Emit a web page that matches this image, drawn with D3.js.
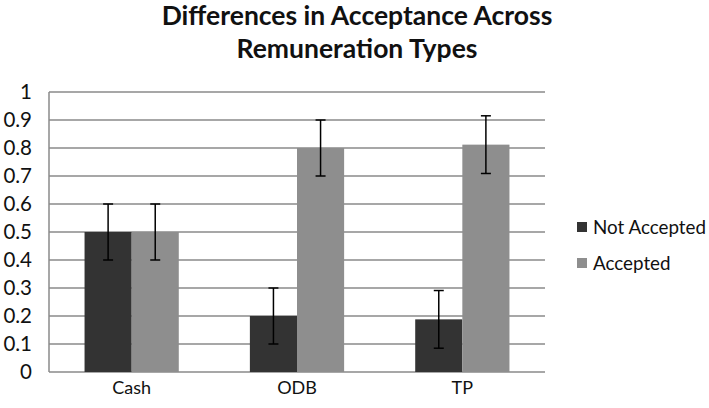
<!DOCTYPE html>
<html><head><meta charset="utf-8">
<script src="https://cdn.jsdelivr.net/npm/d3@7"></script>
<style>body{margin:0;background:#fff}svg{display:block;font-family:Lato,"Open Sans",sans-serif}</style>
</head><body>
<script>
const categories = ["Cash", "ODB", "TP"];
const seriesNames = ["Not Accepted", "Accepted"];
const notAccepted = [0.5, 0.2, 0.188];
const accepted = [0.5, 0.8, 0.812];
const notAcceptedErr = [0.1, 0.1, 0.103];
const acceptedErr = [0.1, 0.1, 0.103];
const yTicks = [0, 0.1, 0.2, 0.3, 0.4, 0.5, 0.6, 0.7, 0.8, 0.9, 1];
const titleLines = ["Differences in Acceptance Across", "Remuneration Types"];
const colors = ["#333333", "#8e8e8e"];

const W = 709, H = 408;
const m = {left: 49, right: 545, top: 92, bottom: 372};
const svg = d3.select("body").append("svg").attr("width", W).attr("height", H);

const y = d3.scaleLinear().domain([0, 1]).range([m.bottom, m.top]);
const x0 = d3.scaleBand().domain(categories).range([m.left, m.right]).paddingInner(0.43).paddingOuter(0.215);
const x1 = d3.scaleBand().domain(seriesNames).range([0, x0.bandwidth()]);

svg.append("g").selectAll("line").data(yTicks).join("line")
  .attr("x1", m.left).attr("x2", m.right)
  .attr("y1", d => y(d)).attr("y2", d => y(d))
  .attr("stroke", "#8a8a8a").attr("stroke-width", 1.5);
svg.append("line").attr("x1", m.left).attr("x2", m.left).attr("y1", m.top).attr("y2", m.bottom)
  .attr("stroke", "#8a8a8a").attr("stroke-width", 1.5);

const yAxis = d3.axisLeft(y).tickValues(yTicks).tickSize(0).tickPadding(0).tickFormat(d3.format("~g"));
const ya = svg.append("g").attr("transform", `translate(32,0)`).call(yAxis);
ya.select(".domain").remove();
ya.selectAll("text").attr("font-size", 20.5).attr("fill", "#111").style("font-family", "Lato, sans-serif");

const xAxis = d3.axisBottom(x0).tickSize(0).tickPadding(0);
const xa = svg.append("g").attr("transform", `translate(0,${m.bottom + 9})`).call(xAxis);
xa.select(".domain").remove();
xa.selectAll("text").attr("font-size", 18).attr("fill", "#111").style("font-family", "Lato, sans-serif");

const rows = categories.map((c, i) => ({c, vals: [
  {s: seriesNames[0], v: notAccepted[i], e: notAcceptedErr[i], col: colors[0]},
  {s: seriesNames[1], v: accepted[i], e: acceptedErr[i], col: colors[1]}
]}));

const g = svg.append("g").selectAll("g").data(rows).join("g")
  .attr("transform", d => `translate(${x0(d.c)},0)`);
g.selectAll("rect").data(d => d.vals).join("rect")
  .attr("x", d => x1(d.s)).attr("width", x1.bandwidth())
  .attr("y", d => y(d.v)).attr("height", d => y(0) - y(d.v))
  .attr("fill", d => d.col);

const eb = g.selectAll("g.err").data(d => d.vals).join("g").attr("class", "err")
  .attr("transform", d => `translate(${x1(d.s) + x1.bandwidth() / 2},0)`);
eb.append("line").attr("y1", d => y(d.v + d.e)).attr("y2", d => y(d.v - d.e))
  .attr("stroke", "#000").attr("stroke-width", 1.5);
eb.append("line").attr("x1", -5).attr("x2", 5).attr("y1", d => y(d.v + d.e)).attr("y2", d => y(d.v + d.e))
  .attr("stroke", "#000").attr("stroke-width", 1.5);
eb.append("line").attr("x1", -5).attr("x2", 5).attr("y1", d => y(d.v - d.e)).attr("y2", d => y(d.v - d.e))
  .attr("stroke", "#000").attr("stroke-width", 1.5);

const lg = svg.append("g").selectAll("g").data(seriesNames).join("g")
  .attr("transform", (d, i) => `translate(577,${227 + i * 36})`);
lg.append("rect").attr("x", 0).attr("y", -5).attr("width", 10).attr("height", 10)
  .attr("fill", (d, i) => colors[i]);
lg.append("text").attr("x", 16).attr("y", 0).attr("dy", "0.35em")
  .attr("font-size", 18.8).attr("fill", "#111").text(d => d);

svg.append("g").selectAll("text").data(titleLines).join("text")
  .attr("x", 357).attr("y", (d, i) => 25 + i * 33)
  .attr("text-anchor", "middle").attr("font-weight", "bold").attr("font-size", 26.5)
  .attr("fill", "#111").text(d => d);
</script>
</body></html>
